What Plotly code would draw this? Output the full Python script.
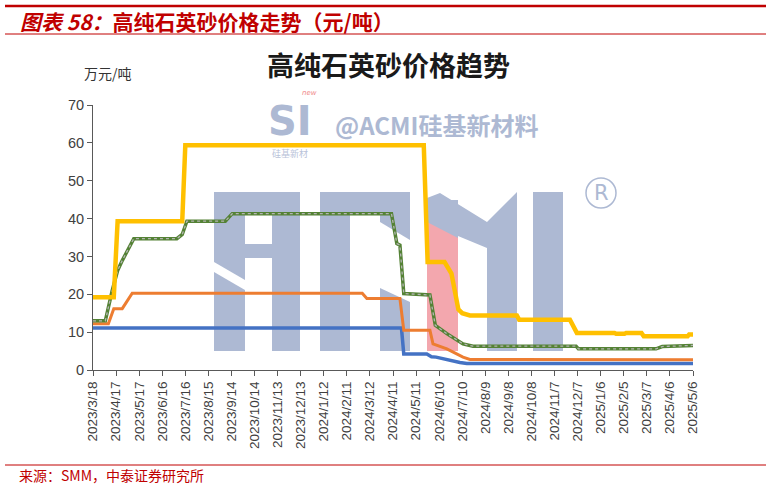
import plotly.graph_objects as go
import pandas as pd

# ---------------- data ----------------
tick_labels = ["2023/3/18", "2023/4/17", "2023/5/17", "2023/6/16", "2023/7/16", "2023/8/15",
               "2023/9/14", "2023/10/14", "2023/11/13", "2023/12/13", "2024/1/12", "2024/2/11",
               "2024/3/12", "2024/4/11", "2024/5/11", "2024/6/10", "2024/7/10", "2024/8/9",
               "2024/9/8", "2024/10/8", "2024/11/7", "2024/12/7", "2025/1/6", "2025/2/5",
               "2025/3/7", "2025/4/6", "2025/5/6"]

yellow_dates = ["2023-03-18", "2023-04-14", "2023-04-19", "2023-07-12", "2023-07-16", "2024-05-21",
                "2024-05-26", "2024-06-17", "2024-06-26", "2024-07-05", "2024-07-10", "2024-07-20",
                "2024-09-19", "2024-09-22", "2024-11-27", "2024-12-06", "2025-01-24", "2025-01-26",
                "2025-02-06", "2025-02-08", "2025-02-28", "2025-03-03", "2025-04-29", "2025-05-01",
                "2025-05-06"]
yellow_vals = [19.2, 19.2, 39.3, 39.3, 59.4, 59.4, 28.5, 28.5, 25.5, 16.0, 15.0, 14.4,
               14.4, 13.3, 13.3, 9.8, 9.8, 9.6, 9.6, 9.8, 9.8, 8.9, 8.9, 9.4, 9.4]

green_dates = ["2023-03-18", "2023-04-03", "2023-04-12", "2023-04-19", "2023-04-25", "2023-05-10",
               "2023-07-05", "2023-07-12", "2023-07-18", "2023-09-06", "2023-09-15", "2024-04-09",
               "2024-04-16", "2024-04-20", "2024-04-25", "2024-05-29", "2024-06-05", "2024-06-20",
               "2024-07-11", "2024-07-24", "2024-12-05", "2024-12-08", "2025-03-19", "2025-03-27",
               "2025-05-06"]
green_vals = [13.0, 13.0, 21.0, 26.3, 28.9, 34.7, 34.7, 35.8, 39.3, 39.3, 41.3, 41.3,
              33.4, 33.0, 20.2, 19.8, 11.8, 9.6, 6.9, 6.3, 6.3, 5.6, 5.6, 6.2, 6.5]

orange_dates = ["2023-03-18", "2023-04-07", "2023-04-14", "2023-04-25", "2023-05-08", "2024-03-02",
                "2024-03-08", "2024-04-20", "2024-04-25", "2024-05-29", "2024-06-02", "2024-06-20",
                "2024-07-11", "2024-07-20", "2025-05-06"]
orange_vals = [12.2, 12.2, 16.2, 16.2, 20.3, 20.3, 18.9, 18.9, 10.5, 10.5, 6.9, 5.6, 3.4, 2.8, 2.7]

blue_dates = ["2023-03-18", "2024-04-22", "2024-04-25", "2024-05-25", "2024-05-31", "2024-06-06",
              "2024-07-07", "2024-07-16", "2025-05-06"]
blue_vals = [11.1, 11.1, 4.2, 4.2, 3.5, 3.4, 2.0, 1.7, 1.7]

# ---------------- layout helpers ----------------
W, H = 771, 487
L, R, T, B = 93, 693, 105, 370


def px(x, y):
    return (x - L) / (R - L), (B - y) / (B - T)


def poly(points, color, layer="below"):
    pts = [px(x, y) for x, y in points]
    d = "M " + " L ".join(f"{a:.5f},{b:.5f}" for a, b in pts) + " Z"
    return dict(type="path", xref="paper", yref="paper", path=d,
                fillcolor=color, line=dict(width=0), layer=layer)


def rect(x0, y0, x1, y1, color, layer="below"):
    return poly([(x0, y0), (x1, y0), (x1, y1), (x0, y1)], color, layer)


def hline(x0, x1, y, color, width):
    a0, b0 = px(x0, y)
    a1, _ = px(x1, y)
    return dict(type="line", xref="paper", yref="paper", x0=a0, x1=a1, y0=b0, y1=b0,
                line=dict(color=color, width=width))


def note(x, y, text, size, color, xanchor="left", yanchor="middle", family="Noto Sans CJK SC"):
    a, b = px(x, y)
    return dict(xref="paper", yref="paper", x=a, y=b, text=text, showarrow=False,
                xanchor=xanchor, yanchor=yanchor,
                font=dict(size=size, color=color, family=family))


WM = "#adb9d3"
PINK = "#f3a7ae"
RED = "#c00000"

shapes = [
    # A
    rect(214, 192, 300, 214, WM),
    rect(272, 192, 300, 351, WM),
    poly([(214, 192), (245, 192), (245, 280), (214, 262)], WM),
    poly([(214, 272), (245, 290), (245, 351), (214, 351)], WM),
    rect(245, 244, 272, 258, WM),
    # C
    rect(320, 192, 350, 351, WM),
    rect(320, 192, 410, 214, WM),
    poly([(380, 192), (410, 192), (410, 240), (380, 222)], WM),
    poly([(380, 288), (410, 302), (410, 351), (380, 351)], WM),
    # M
    poly([(427, 198), (440, 193), (487, 222), (517, 192), (517, 228), (487, 248),
          (458, 236), (427, 222)], WM),
    rect(427, 200, 458, 351, WM),
    rect(487, 225, 517, 351, WM),
    poly([(427, 222), (458, 238), (458, 351), (427, 351)], PINK),
    # I
    rect(533, 192, 563, 351, WM),
    # registered circle
    dict(type="circle", xref="paper", yref="paper",
         x0=px(586, 0)[0], x1=px(616, 0)[0], y0=px(0, 208)[1], y1=px(0, 178)[1],
         line=dict(color=WM, width=1.5), layer="below"),
    # header / footer rules
    hline(5, 766, 6, RED, 2.5),
    hline(5, 766, 34, RED, 1),
    hline(5, 766, 465, RED, 1),
]

annotations = [
    note(18, 21, "<b><i>图表 58：</i>高纯石英砂价格走势（元/吨）</b>", 21, RED),
    note(17, 475, "来源：SMM，中泰证券研究所", 14, RED),
    note(388, 64, "<b>高纯石英砂价格趋势</b>", 27, "#1a1a1a", xanchor="center"),
    note(82, 73, "万元/吨", 14, "#333333"),
    note(290, 121, "<b>SI</b>", 40, WM, xanchor="center", family="DejaVu Sans"),
    note(309, 93, "<i>new</i>", 7, "#f08a8a", xanchor="center", family="DejaVu Sans"),
    note(290, 153, "硅基新材", 9, "#b9c3d9", xanchor="center"),
    note(333, 124, "<b>@ACMI硅基新材料</b>", 24, WM),
    note(601, 193, "R", 21, WM, xanchor="center", family="DejaVu Sans"),
]

fig = go.Figure()

fig.add_trace(go.Scatter(x=pd.to_datetime(blue_dates), y=blue_vals, mode="lines",
                         line=dict(color="#4472c4", width=3.5)))
fig.add_trace(go.Scatter(x=pd.to_datetime(orange_dates), y=orange_vals, mode="lines",
                         line=dict(color="#ed7d31", width=3)))
fig.add_trace(go.Scatter(x=pd.to_datetime(green_dates), y=green_vals, mode="lines",
                         line=dict(color="#548235", width=3.5)))
fig.add_trace(go.Scatter(x=pd.to_datetime(green_dates), y=green_vals, mode="lines",
                         line=dict(color="#b4b4b4", width=1.3, dash="dot")))
fig.add_trace(go.Scatter(x=pd.to_datetime(yellow_dates), y=yellow_vals, mode="lines",
                         line=dict(color="#ffc000", width=4.5)))

tick_vals = pd.to_datetime(tick_labels, format="%Y/%m/%d")

fig.update_layout(
    width=W, height=H,
    margin=dict(l=L, r=W - R, t=T, b=H - B, pad=0),
    paper_bgcolor="white", plot_bgcolor="white",
    showlegend=False,
    shapes=shapes,
    annotations=annotations,
    font=dict(family="Liberation Sans", color="#404040"),
)
fig.update_xaxes(type="date", range=[tick_vals[0], tick_vals[-1]],
                 tickmode="array", tickvals=tick_vals, ticktext=tick_labels,
                 tickangle=-90, ticks="outside", ticklen=5, tickcolor="#595959",
                 showline=True, linecolor="#595959", linewidth=1, showgrid=False,
                 zeroline=False, tickfont=dict(size=13.5, color="#404040"))
fig.update_yaxes(range=[0, 70], dtick=10, ticks="outside", ticklen=5, tickcolor="#595959",
                 showline=True, linecolor="#595959", linewidth=1, showgrid=False,
                 zeroline=False, tickfont=dict(size=14.5, color="#404040"))

fig.write_html("out.html",
               config={"displayModeBar": False},
               post_script="document.body.style.margin='0';document.body.style.overflow='hidden';")
